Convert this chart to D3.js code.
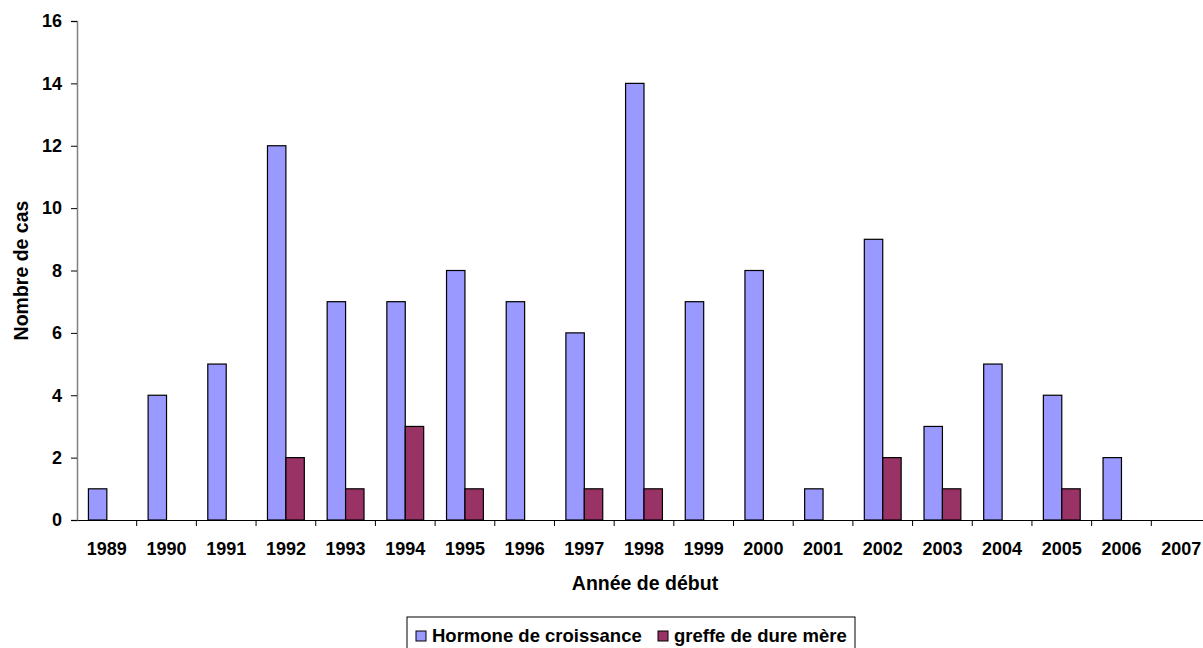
<!DOCTYPE html>
<html>
<head>
<meta charset="utf-8">
<script src="https://cdn.jsdelivr.net/npm/d3@7"></script>
<style>
  body { margin: 0; background: #fff; }
  svg { display: block; font-family: "Liberation Sans", Arial, sans-serif; font-weight: bold; }
</style>
</head>
<body>
<div id="wrapper"></div>
<script>
const years = ["1989","1990","1991","1992","1993","1994","1995","1996","1997","1998","1999","2000","2001","2002","2003","2004","2005","2006","2007"];
const hormone = [1,4,5,12,7,7,8,7,6,14,7,8,1,9,3,5,4,2,0];
const greffe  = [0,0,0,2,1,3,1,0,1,1,0,0,0,2,1,0,1,0,0];
const seriesNames = ["Hormone de croissance", "greffe de dure mère"];
const seriesColors = ["#9999ff", "#993366"];
const yTicks = [0,2,4,6,8,10,12,14,16];

const dimension = {
    width: 1203,
    height: 648,
    margin: { left: 77, right: -8, top: 21, bottom: 128 }
};

const svg = d3.select("#wrapper").append("svg")
    .attr("width", dimension.width)
    .attr("height", dimension.height);

const x_scaler = d3.scaleBand()
    .domain(years)
    .range([dimension.margin.left, dimension.width - dimension.margin.right])
    .paddingInner(0).paddingOuter(0);

const y_scaler = d3.scaleLinear()
    .domain([0, 16])
    .range([dimension.height - dimension.margin.bottom, dimension.margin.top]);

const inner = d3.scaleBand()
    .domain([0, 1])
    .range([0, x_scaler.bandwidth()])
    .paddingOuter(0.62).paddingInner(0);

// y axis
const y_axis = d3.axisLeft(y_scaler).tickValues(yTicks).tickSize(6).tickPadding(9);
const gy = svg.append("g")
    .attr("transform", `translate(${dimension.margin.left},0)`)
    .call(y_axis);
gy.select(".domain").attr("stroke", "#808080").attr("stroke-width", 1.5);
gy.selectAll(".tick line").attr("stroke", "#000");
gy.selectAll(".tick text").style("font-size", "18px").style("font-weight", "bold").attr("fill", "#000");

// bars
const groups = [hormone, greffe];
groups.forEach((vals, s) => {
    svg.append("g").selectAll("rect")
        .data(vals.map((v, i) => ({year: years[i], value: v})).filter(d => d.value > 0))
        .join("rect")
        .attr("x", d => x_scaler(d.year) + inner(s))
        .attr("y", d => y_scaler(d.value))
        .attr("width", inner.bandwidth())
        .attr("height", d => y_scaler(0) - y_scaler(d.value))
        .attr("fill", seriesColors[s])
        .attr("stroke", "#000")
        .attr("stroke-width", 1.2);
});

// x axis
const x_axis = d3.axisBottom(x_scaler).tickSize(0).tickPadding(22);
const gx = svg.append("g")
    .attr("transform", `translate(0,${y_scaler(0)})`)
    .call(x_axis);
gx.select(".domain").attr("stroke", "#000").attr("stroke-width", 1.2);
gx.selectAll(".tick text").style("font-size", "18px").style("font-weight", "bold").attr("fill", "#000");
gx.append("g").selectAll("line")
    .data(years.slice(1))
    .join("line")
    .attr("x1", d => x_scaler(d)).attr("x2", d => x_scaler(d))
    .attr("y1", 0).attr("y2", 6)
    .attr("stroke", "#000");

// axis titles
svg.append("text")
    .attr("transform", `translate(28,${(y_scaler(0) + y_scaler(16)) / 2}) rotate(-90)`)
    .attr("text-anchor", "middle")
    .style("font-size", "19.5px")
    .text("Nombre de cas");

svg.append("text")
    .attr("x", 645)
    .attr("y", 590)
    .attr("text-anchor", "middle")
    .style("font-size", "19.5px")
    .text("Année de début");

// legend
const legend = svg.append("g").attr("transform", "translate(407,617)");
legend.append("rect")
    .attr("width", 448).attr("height", 40)
    .attr("fill", "#fff").attr("stroke", "#000").attr("stroke-width", 1);
const legendX = [9, 251];
seriesNames.forEach((name, i) => {
    const item = legend.append("g").attr("transform", `translate(${legendX[i]},0)`);
    item.append("rect")
        .attr("x", 0).attr("y", 14)
        .attr("width", 10).attr("height", 10)
        .attr("fill", seriesColors[i]).attr("stroke", "#000").attr("stroke-width", 1);
    item.append("text")
        .attr("x", 16).attr("y", 25)
        .style("font-size", "18.5px")
        .text(name);
});
</script>
</body>
</html>
